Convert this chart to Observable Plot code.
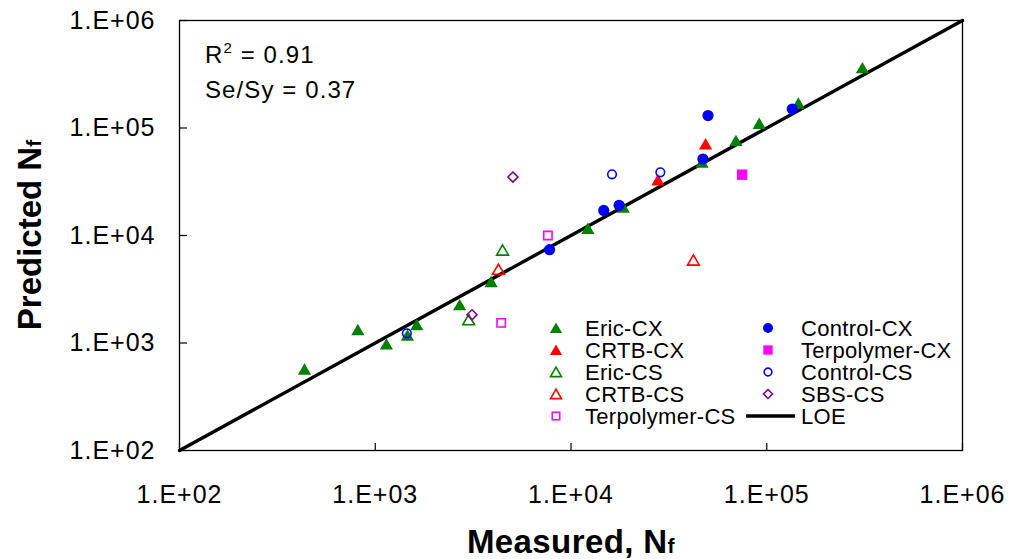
<!DOCTYPE html>
<html><head><meta charset="utf-8">
<script src="https://cdn.jsdelivr.net/npm/d3@7"></script>
<script src="https://cdn.jsdelivr.net/npm/@observablehq/plot@0.6"></script>
<style>
html,body{margin:0;padding:0;background:#fff;}
svg [aria-label="x-axis tick label"] text, svg [aria-label="y-axis tick label"] text {letter-spacing:1px;}
</style>
</head><body><div id="chart"></div>
<script>
// Axis ticks
const tickValues = [1e2, 1e3, 1e4, 1e5, 1e6];
const tickLabels = ["1.E+02", "1.E+03", "1.E+04", "1.E+05", "1.E+06"];

// Series (Measured Nf, Predicted Nf)
const ericCX_x = [435, 815, 1140, 1460, 1630, 2700, 3910, 12200, 18500, 46700, 69600, 91500, 145000, 308000];
const ericCX_y = [575, 1340, 983, 1190, 1490, 2280, 3740, 11700, 18400, 48300, 76900, 111000, 171000, 365000];
const controlCX_x = [7770, 14700, 17600, 47200, 50100, 135000];
const controlCX_y = [7380, 17100, 19100, 51400, 130500, 150000];
const crtbCX_x = [27800, 48700];
const crtbCX_y = [33100, 71600];
const terpCX_x = [74900];
const terpCX_y = [36800];
const ericCS_x = [4470, 3000];
const ericCS_y = [7380, 1660];
const controlCS_x = [1450, 16200, 28600];
const controlCS_y = [1230, 37100, 38700];
const crtbCS_x = [4260, 42200];
const crtbCS_y = [4890, 5950];
const sbsCS_x = [5050, 3120];
const sbsCS_y = [35000, 1830];
const terpCS_x = [7620, 4400];
const terpCS_y = [10000, 1540];
// Line of equality
const loe_x = [100, 1e6];
const loe_y = [100, 1e6];

const annotationLines = ["R", "2", " = 0.91", "Se/Sy = 0.37"];

const seriesList = [
  {name: "Eric-CX", xs: ericCX_x, ys: ericCX_y, symbol: "triangle", fill: "#008000", stroke: "none", r: 4.9, sw: 0, dy: 2},
  {name: "Control-CX", xs: controlCX_x, ys: controlCX_y, symbol: "circle", fill: "#0000FF", stroke: "none", r: 5.6, sw: 0, dy: 0},
  {name: "CRTB-CX", xs: crtbCX_x, ys: crtbCX_y, symbol: "triangle", fill: "#FF0000", stroke: "none", r: 4.9, sw: 0, dy: 2},
  {name: "Terpolymer-CX", xs: terpCX_x, ys: terpCX_y, symbol: "square", fill: "#FF00FF", stroke: "none", r: 5.9, sw: 0, dy: 0},
  {name: "Eric-CS", xs: ericCS_x, ys: ericCS_y, symbol: "triangle", fill: "none", stroke: "#008000", r: 4.4, sw: 1.6, dy: 2},
  {name: "Control-CS", xs: controlCS_x, ys: controlCS_y, symbol: "circle", fill: "none", stroke: "#0000FF", r: 4.3, sw: 1.6, dy: 0},
  {name: "CRTB-CS", xs: crtbCS_x, ys: crtbCS_y, symbol: "triangle", fill: "none", stroke: "#FF0000", r: 4.4, sw: 1.6, dy: 2},
  {name: "SBS-CS", xs: sbsCS_x, ys: sbsCS_y, symbol: "diamond2", fill: "none", stroke: "#800080", r: 4.5, sw: 1.6, dy: 0},
  {name: "Terpolymer-CS", xs: terpCS_x, ys: terpCS_y, symbol: "square", fill: "none", stroke: "#FF00FF", r: 4.7, sw: 1.6, dy: 0}
];

const loeData = loe_x.map((x, i) => ({x, y: loe_y[i]}));

const dotMarks = seriesList.map(s => Plot.dot(
  s.xs.map((x, i) => ({series: s.name, x, y: s.ys[i]})),
  {x: "x", y: "y", symbol: s.symbol, r: s.r, fill: s.fill, stroke: s.stroke, strokeWidth: s.sw, dy: s.dy}
));

const fmt = d => tickLabels[tickValues.indexOf(d)];
const FONT = "'Liberation Sans', Arial, Helvetica, sans-serif";

const chart = Plot.plot({
  width: 1011, height: 559,
  marginTop: 20, marginRight: 49, marginBottom: 109, marginLeft: 179,
  x: {type: "log", domain: [100, 1e6]},
  y: {type: "log", domain: [100, 1e6]},
  style: {fontFamily: FONT, fontSize: "25px", color: "#000", background: "#fff", overflow: "visible"},
  marks: [
    Plot.line(loeData, {x: "x", y: "y", stroke: "#000", strokeWidth: 3.4}),
    ...dotMarks,
    Plot.frame({stroke: "#000", strokeWidth: 1.3}),
    Plot.axisX(tickValues, {tickSize: -7, tickPadding: 42, tickFormat: fmt, label: null, fontSize: 25, stroke: "#000", strokeWidth: 1.2}),
    Plot.axisY(tickValues, {tickSize: -8, tickPadding: 32, tickFormat: fmt, label: null, fontSize: 25, stroke: "#000", strokeWidth: 1.2})
  ]
});

document.getElementById("chart").appendChild(chart);

const svg = d3.select(chart);

// Axis titles
const xt = svg.append("text")
  .attr("x", 571).attr("y", 553)
  .attr("text-anchor", "middle")
  .attr("font-family", FONT).attr("font-weight", "bold").attr("font-size", 33)
  .attr("letter-spacing", 0.4)
  .attr("fill", "#000");
xt.append("tspan").text("Measured, N");
xt.append("tspan").attr("font-size", 21).text("f");

const yt = svg.append("text")
  .attr("transform", "translate(41,235) rotate(-90)")
  .attr("text-anchor", "middle")
  .attr("font-family", FONT).attr("font-weight", "bold").attr("font-size", 33)
  .attr("fill", "#000");
yt.append("tspan").text("Predicted N");
yt.append("tspan").attr("font-size", 21).text("f");

// Annotation
const a1 = svg.append("text").attr("x", 205).attr("y", 63)
  .attr("text-anchor", "start").attr("letter-spacing", 1.1)
  .attr("font-family", FONT).attr("font-size", 24).attr("fill", "#000");
a1.append("tspan").text(annotationLines[0]);
a1.append("tspan").attr("font-size", 15).attr("dy", -10).text(annotationLines[1]);
a1.append("tspan").attr("dy", 10).text(annotationLines[2]);
svg.append("text").attr("x", 205).attr("y", 98)
  .attr("text-anchor", "start").attr("letter-spacing", 1.1)
  .attr("font-family", FONT).attr("font-size", 24).attr("fill", "#000")
  .text(annotationLines[3]);

// Legend
const symMap = {triangle: d3.symbolTriangle, circle: d3.symbolCircle, square: d3.symbolSquare, diamond2: d3.symbolDiamond2};
const legendOrder = ["Eric-CX", "CRTB-CX", "Eric-CS", "CRTB-CS", "Terpolymer-CS", "Control-CX", "Terpolymer-CX", "Control-CS", "SBS-CS", "LOE"];
const rowY = [328, 350, 372, 394, 416];
const colMarkX = [556, 768];
const colTextX = [585, 801];
const lg = svg.append("g").attr("font-family", FONT).attr("font-size", 22).attr("text-anchor", "start");
legendOrder.forEach((name, i) => {
  const col = Math.floor(i / 5), row = i % 5;
  const y = rowY[row];
  if (name === "LOE") {
    lg.append("line").attr("x1", 746).attr("x2", 795).attr("y1", y).attr("y2", y)
      .attr("stroke", "#000").attr("stroke-width", 3.4);
  } else {
    const s = seriesList.find(d => d.name === name);
    const isTri = s.symbol === "triangle";
    lg.append("path")
      .attr("d", d3.symbol(symMap[s.symbol], Math.PI * s.r * s.r * (isTri ? 0.85 : 0.8))())
      .attr("transform", `translate(${colMarkX[col]},${y + (isTri ? 1.5 : 0)})`)
      .attr("fill", s.fill).attr("stroke", s.stroke).attr("stroke-width", s.sw);
  }
  lg.append("text").attr("x", colTextX[col]).attr("y", y).attr("dy", "0.35em")
    .attr("text-anchor", "start").attr("letter-spacing", 0.3).attr("fill", "#000").text(name);
});
</script>
</body></html>
